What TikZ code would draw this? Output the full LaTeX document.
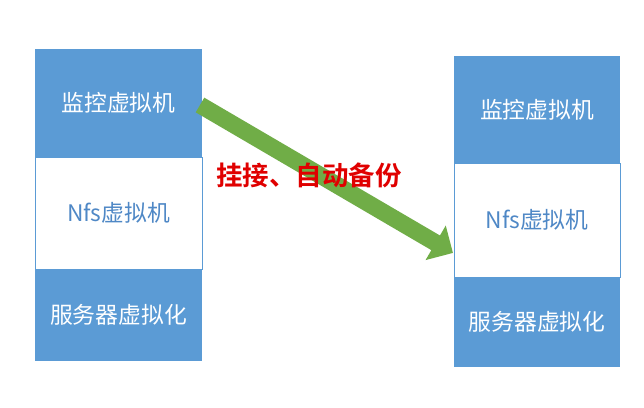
\documentclass[tikz,border=0pt]{standalone}
\usepackage{fontspec}
\newfontfamily\cjk{Noto Sans CJK SC}
\newfontfamily\cjkb{Noto Sans CJK SC Bold}
\definecolor{boxblue}{HTML}{5B9BD5}
\definecolor{txtblue}{HTML}{4F88C6}
\definecolor{arrgreen}{HTML}{70AD47}
\definecolor{lblred}{HTML}{E00000}
\begin{document}
\begin{tikzpicture}[x=1pt,y=-1pt,
  bluebox/.style={fill=boxblue,draw=none,inner sep=0pt,text=white,font=\cjk\fontsize{22.8}{26}\selectfont},
  whitebox/.style={fill=white,draw=boxblue,line width=0.8pt,inner sep=0pt,text=txtblue,font=\cjk\fontsize{22.8}{26}\selectfont},
  lbl/.style={text=lblred,font=\cjkb\fontsize{26.5}{30}\selectfont}]
\useasboundingbox[fill=white] (0,0) rectangle (644,407);
% left stack
\node[whitebox,minimum width=167pt,minimum height=112pt] (lm) at (118.5,213) {Nfs虚拟机};
\node[bluebox,minimum width=167pt,minimum height=108pt] (lt) at (118.5,103) {监控虚拟机};
\node[bluebox,minimum width=167pt,minimum height=92pt] (lb) at (118.5,315) {服务器虚拟化};
% right stack
\node[whitebox,minimum width=166pt,minimum height=114pt] (rm) at (537,220) {Nfs虚拟机};
\node[bluebox,minimum width=166pt,minimum height=107pt] (rt) at (537,109.5) {监控虚拟机};
\node[bluebox,minimum width=166pt,minimum height=90pt] (rb) at (537,322) {服务器虚拟化};
% arrow
\coordinate (tail) at (200,105);
\begin{scope}[shift={(tail)},rotate=-30.32]
\fill[arrgreen] (0,-8.5) -- (273,-8.5) -- (273,-20) -- (293,0) -- (273,20) -- (273,8.5) -- (0,8.5) -- cycle;
\end{scope}
\node[lbl] (lab) at (309,175) {挂接、自动备份};
\end{tikzpicture}
\end{document}
